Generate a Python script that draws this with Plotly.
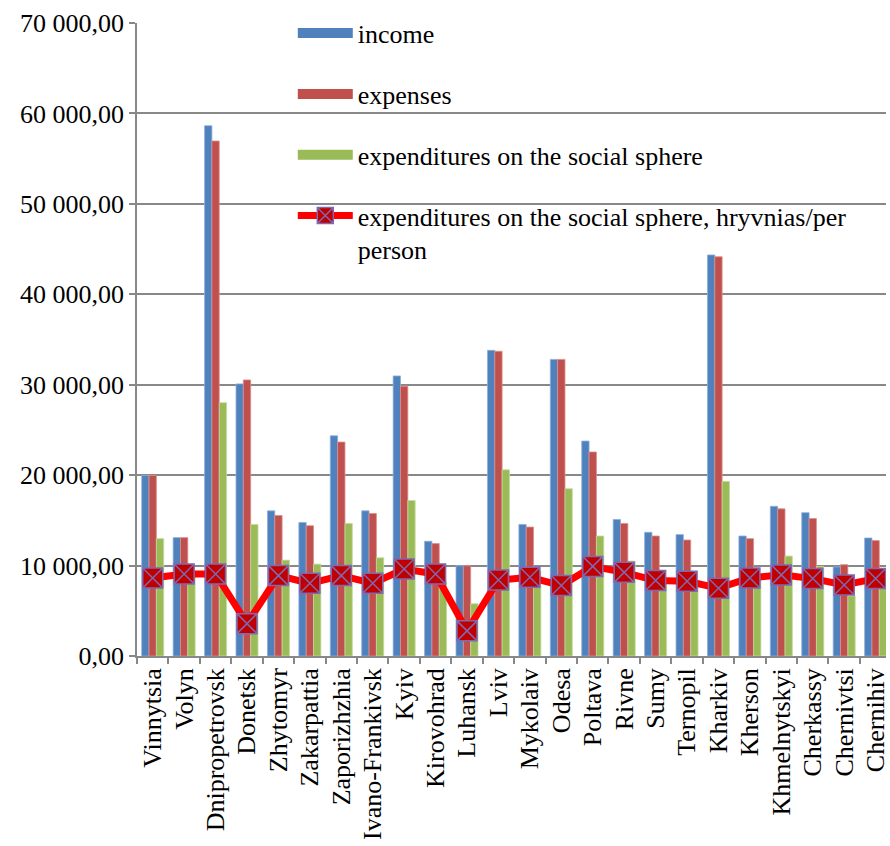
import plotly.graph_objects as go

regions = ["Vinnytsia", "Volyn", "Dnipropetrovsk", "Donetsk", "Zhytomyr", "Zakarpattia",
           "Zaporizhzhia", "Ivano-Frankivsk", "Kyiv", "Kirovohrad", "Luhansk", "Lviv",
           "Mykolaiv", "Odesa", "Poltava", "Rivne", "Sumy", "Ternopil", "Kharkiv",
           "Kherson", "Khmelnytskyi", "Cherkassy", "Chernivtsi", "Chernihiv"]

income = [19960, 13090, 58640, 30090, 16050, 14770, 24350, 16050, 30970, 12690, 9980, 33800,
          14550, 32800, 23770, 15100, 13680, 13420, 44350, 13270, 16550, 15850, 9850, 13050]
expenses = [19960, 13090, 56950, 30530, 15540, 14410, 23660, 15760, 29840, 12430, 9980, 33700,
            14260, 32800, 22560, 14660, 13270, 12830, 44150, 12980, 16270, 15200, 10100, 12760]
social = [12980, 8780, 28010, 14550, 10600, 10160, 14660, 10860, 17190, 8200, 5780, 20590,
          9400, 18500, 13270, 10490, 8600, 8220, 19310, 8500, 11050, 9910, 6650, 8240]
social_per_person = [8630, 9070, 9070, 3580, 8890, 8040, 8890, 8040, 9620, 9070, 2780, 8410,
                     8700, 7790, 9910, 9250, 8340, 8260, 7500, 8630, 8970, 8560, 7860, 8560]

y_tickvals = [0, 10000, 20000, 30000, 40000, 50000, 60000, 70000]
y_ticktext = ["0,00", "10 000,00", "20 000,00", "30 000,00", "40 000,00",
              "50 000,00", "60 000,00", "70 000,00"]

names = ["income", "expenses", "expenditures on the social sphere",
         "expenditures on the social sphere, hryvnias/per<br>person"]
colors = ["#4F81BD", "#C0504D", "#9BBB59"]
edge_colors = ["#8EAEDB", "#DC8E8C", "#C3D99E"]

FONT = "Liberation Serif, Times New Roman, serif"

fig = go.Figure()
for vals, name, col, ecol in zip([income, expenses, social], names[:3], colors, edge_colors):
    fig.add_trace(go.Bar(x=regions, y=vals, name=name, marker_color=col,
                         marker_line=dict(color=ecol, width=0.8),
                         showlegend=False, legendgroup=name))
    fig.add_trace(go.Scatter(x=[None], y=[None], mode="lines", name=name,
                             line=dict(color=col, width=12), legendgroup=name,
                             showlegend=True))

fig.add_trace(go.Scatter(x=regions, y=social_per_person, name=names[3], mode="lines+markers",
                         line=dict(color="#FF0000", width=7),
                         marker=dict(symbol="square-x", size=20, color="#C00000",
                                     line=dict(color="#7F68B0", width=1.5)),
                         legendgroup="pp"))

fig.update_layout(
    width=890, height=846,
    margin=dict(l=137, r=0, t=23, b=190),
    paper_bgcolor="white", plot_bgcolor="white",
    barmode="group", bargap=0.3, bargroupgap=0,
    font=dict(family=FONT, size=26, color="black"),
    showlegend=True,
    legend=dict(x=0.208, y=1.021, xanchor="left", yanchor="top",
                bgcolor="rgba(0,0,0,0)", font=dict(family=FONT, size=26, color="black"),
                traceorder="grouped", tracegroupgap=24, itemwidth=55, valign="top",
                itemclick=False, itemdoubleclick=False),
    xaxis=dict(type="category", range=[-0.5, 23.33], tickangle=-90, tickson="boundaries",
               ticks="outside", ticklen=6, tickcolor="#888888", tickwidth=1.5,
               showline=True, linecolor="#888888", linewidth=1.5, showgrid=False,
               tickfont=dict(family=FONT, size=26, color="black")),
    yaxis=dict(range=[0, 70000], tickvals=y_tickvals, ticktext=y_ticktext,
               ticks="outside", ticklen=6, tickcolor="#888888", tickwidth=1.5,
               showline=True, linecolor="#888888", linewidth=1.5,
               showgrid=True, gridcolor="#888888", gridwidth=1.5, zeroline=False,
               tickfont=dict(family=FONT, size=26, color="black")),
)

fig.write_html("out.html")
